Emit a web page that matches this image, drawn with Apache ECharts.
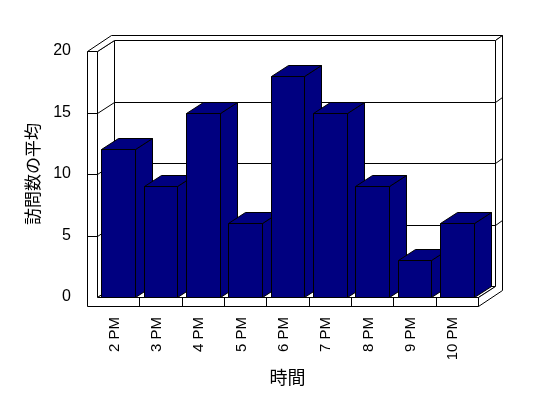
<!DOCTYPE html>
<html>
<head>
<meta charset="utf-8">
<script src="https://cdn.jsdelivr.net/npm/echarts@6/dist/echarts.min.js"></script>
<style>
html,body{margin:0;padding:0;background:#fff;}
#chart{width:548px;height:398px;}
</style>
</head>
<body>
<div id="chart"></div>
<script>
// ---- data ----
const categories = ['2 PM', '3 PM', '4 PM', '5 PM', '6 PM', '7 PM', '8 PM', '9 PM', '10 PM'];
const visits = [12, 9, 15, 6, 18, 15, 9, 3, 6];
const yMin = 0, yMax = 20, yStep = 5;
const gridValues = [5, 10, 15];
const xTitle = '時間';
const yTitle = '訪問数の平均';

// ---- 3D look parameters ----
const DX = 17, DY = -11;     // depth offset of one depth unit
const BACK = 1.42;           // back face of back wall (depth units)
const WALL = 10;             // left wall thickness (px)
const FLOOR = 9;             // floor thickness (px)
const NAVY = '#000080';
const LATIN = '"Liberation Sans", Arial, sans-serif';
const CJK = '"Noto Sans CJK JP", sans-serif';

function crisp(p) { return [Math.round(p[0]) + 0.5, Math.round(p[1]) + 0.5]; }

function poly(points, fill) {
  return {
    type: 'polygon',
    shape: { points: points.map(crisp) },
    style: { fill: fill, stroke: '#000', lineWidth: 1 }
  };
}
function line(a, b) {
  const p = crisp(a), q = crisp(b);
  return {
    type: 'line',
    shape: { x1: p[0], y1: p[1], x2: q[0], y2: q[1] },
    style: { stroke: '#000', lineWidth: 1 }
  };
}

function renderFrame(params, api) {
  const cs = params.coordSys;
  const L = cs.x, T = cs.y, W = cs.width, H = cs.height, B = T + H;
  const P = (x, y, z) => [L + x + z * DX, B - y + z * DY];
  const ch = [];
  ch.push(poly([P(0, 0, 1), P(W, 0, 1), P(W, H, 1), P(0, H, 1)], '#fff'));
  ch.push(poly([P(0, 0, 0), P(0, 0, 1), P(0, H, 1), P(0, H, 0)], '#fff'));
  ch.push(poly([P(0, 0, 0), P(W, 0, 0), P(W, 0, 1), P(0, 0, 1)], '#fff'));
  ch.push(poly([P(-WALL, H, 0), P(0, H, 0), P(0, H, 1), P(W, H, 1), P(W, H, BACK), P(-WALL, H, BACK)], '#fff'));
  ch.push(poly([P(W, 0, 0), P(W, 0, 1), P(W, H, 1), P(W, H, BACK), P(W, -FLOOR, BACK), P(W, -FLOOR, 0)], '#fff'));
  ch.push(poly([P(-WALL, H, 0), P(0, H, 0), P(0, 0, 0), P(W, 0, 0), P(W, -FLOOR, 0), P(-WALL, -FLOOR, 0)], '#fff'));
  gridValues.forEach(function (v) {
    const h = B - api.coord([0, v])[1];
    ch.push(line(P(0, h, 1), P(W, h, 1)));
    ch.push(line(P(0, h, 0), P(0, h, 1)));
    ch.push(line(P(W, h, 1), P(W, h, BACK)));
    ch.push(line(P(-WALL, h, 0), P(0, h, 0)));
  });
  const cw = api.size([1, 0])[0];
  for (let i = 1; i < categories.length; i++) {
    const x = api.coord([i, 0])[0] - cw / 2 - L;
    ch.push(line(P(x, 0, 0), P(x, -FLOOR, 0)));
  }
  return { type: 'group', children: ch };
}

function renderBar(params, api) {
  const top = api.coord([api.value(0), api.value(1)]);
  const base = api.coord([api.value(0), 0]);
  const bw = api.size([1, 0])[0] * 0.8;
  const x0 = top[0] - bw / 2, x1 = top[0] + bw / 2;
  const yt = top[1], yb = base[1];
  return {
    type: 'group',
    children: [
      poly([[x1, yt], [x1 + DX, yt + DY], [x1 + DX, yb + DY], [x1, yb]], NAVY),
      poly([[x0, yt], [x1, yt], [x1 + DX, yt + DY], [x0 + DX, yt + DY]], NAVY),
      poly([[x0, yt], [x1, yt], [x1, yb], [x0, yb]], NAVY)
    ]
  };
}

const chart = echarts.init(document.getElementById('chart'), null, { renderer: 'canvas' });
chart.setOption({
  backgroundColor: '#fff',
  animation: false,
  grid: { left: 97, right: 70, top: 51, bottom: 101 },
  xAxis: {
    type: 'category',
    data: categories,
    axisLine: { show: false },
    axisTick: { show: false },
    splitLine: { show: false },
    axisLabel: {
      interval: 0, rotate: 90, margin: 20, fontSize: 15, color: '#000',
      fontFamily: LATIN, verticalAlign: 'bottom', lineHeight: 7
    },
    name: xTitle,
    nameLocation: 'middle',
    nameGap: 70,
    nameTextStyle: { fontSize: 18, color: '#000', fontFamily: CJK }
  },
  yAxis: {
    type: 'value',
    min: yMin, max: yMax, interval: yStep,
    axisLine: { show: false },
    axisTick: { show: false },
    splitLine: { show: false },
    axisLabel: { margin: 26, fontSize: 16, color: '#000', fontFamily: LATIN },
    name: yTitle,
    nameLocation: 'middle',
    nameGap: 56,
    nameTextStyle: { fontSize: 17, color: '#000', fontFamily: CJK }
  },
  series: [
    {
      type: 'custom',
      name: 'frame',
      clip: false,
      z: 1,
      silent: true,
      renderItem: renderFrame,
      data: [[0, 0]]
    },
    {
      type: 'custom',
      name: '訪問数の平均',
      clip: false,
      z: 2,
      renderItem: renderBar,
      data: visits.map(function (v, i) { return [i, v]; })
    }
  ]
});
</script>
</body>
</html>
